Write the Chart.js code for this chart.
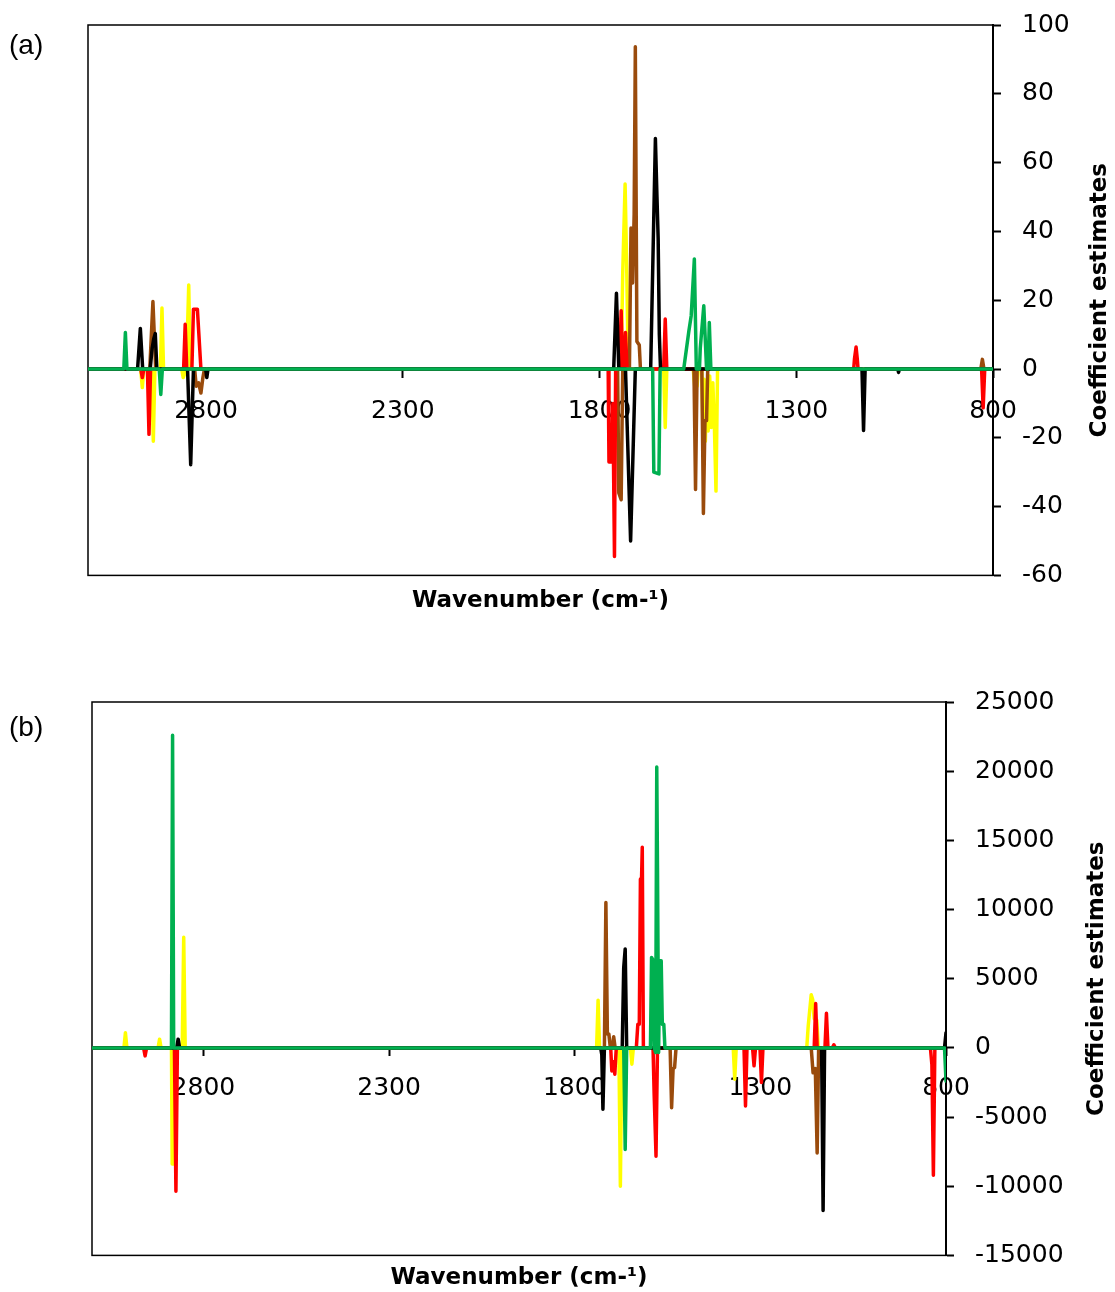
<!DOCTYPE html>
<html>
<head>
<meta charset="utf-8">
<script src="https://cdn.jsdelivr.net/npm/chart.js@4.4.1/dist/chart.umd.min.js"></script>
<style>
  html,body{margin:0;padding:0;background:#fff;}
  #wrap{position:relative;width:1115px;height:1292px;overflow:hidden;}
  canvas{position:absolute;left:0;}
  .plab{position:absolute;left:9px;font-family:"Liberation Sans",Arial,sans-serif;font-size:28px;line-height:28px;color:#000;}
</style>
</head>
<body>
<div id="wrap">
  <canvas id="ca" width="1115" height="640" style="top:0px"></canvas>
  <canvas id="cb" width="1115" height="652" style="top:640px"></canvas>
  <div class="plab" style="top:31px">(a)</div>
  <div class="plab" style="top:713px">(b)</div>
</div>
<script>
// ---------- data (wavenumber, coefficient) ----------
const X_TICKS = [2800, 2300, 1800, 1300, 800];
const X_MIN = 800, X_MAX = 3100;
const A_Y_TICKS = [-60, -40, -20, 0, 20, 40, 60, 80, 100];
const B_Y_TICKS = [-15000, -10000, -5000, 0, 5000, 10000, 15000, 20000, 25000];
const X_TITLE = 'Wavenumber (cm-\u00B9)';
const Y_TITLE = 'Coefficient estimates';

const A_RED = [[3100,0],[2966,0],[2962,-2.5],[2958,0],[2949,0],[2945,-19],[2941,0],
  [2857,0],[2853,13],[2849,0],[2836,0],[2832,17.4],[2822,17.4],[2813,0],
  [1778,0],[1776,-27],[1769,-27],[1766,-10],[1762,-54.5],[1759,0],[1749,0],[1745,16.9],[1741,0],[1738,0],[1734,10.6],[1730,0],
  [1637,0],[1633,14.5],[1629,0],
  [1154,0],[1152,3],[1148,6.4],[1145,3],[1143,0],
  [829,0],[825,-11.3],[821,0],[800,0]];
const A_BROWN = [[3100,0],[2943,0],[2935,19.6],[2928,0],
  [2829,0],[2825,-5],[2819,-4],[2813,-7],[2808,-2.5],[2804,0],
  [1754,0],[1751,-36],[1745,-38],[1741,0],
  [1724,0],[1720,41],[1716,25],[1712,45],[1709,93.7],[1705,8],[1699,7],[1696,0],
  [1560,0],[1556,-35],[1552,0],[1540,0],[1536,-42],[1532,-15],[1528,-15],[1525,0],
  [831,0],[827,2.8],[823,0],[800,0]];
const A_YELLOW = [[3100,0],[2966,0],[2962,-5.4],[2958,0],[2938,0],[2934,-21],[2930,0],[2916,0],[2912,17.7],[2908,0],
  [2862,0],[2858,-2.5],[2850,0],[2844,24.4],[2840,0],
  [1745,0],[1741,28],[1735,53.8],[1731,30],[1727,0],
  [1637,0],[1633,-17],[1629,0],
  [1562,0],[1558,-5],[1552,-5],[1549,0],[1540,0],[1537,-19.5],[1534,-3],[1531,-21],[1528,-5],[1524,-18],[1520,-2],[1516,-17],[1512,-4],[1508,-17],[1504,-35.5],[1500,0],
  [800,0]];
const A_BLACK = [[3100,0],[2974,0],[2967,11.8],[2961,0],[2942,0],[2937,6],[2933,8.7],[2929,10.3],[2925,0],
  [2847,0],[2839,-27.8],[2832,0],[2801,0],[2798,-2.5],[2795,0],
  [1764,0],[1757,22],[1751,0],
  [1734,0],[1721,-50],[1709,0],
  [1670,0],[1658,67],[1654,50],[1651,38],[1648,10],[1645,0],
  [1133,0],[1129,-17.9],[1125,0],[1042,0],[1040,-1],[1038,0],[800,0]];
const A_GREEN = [[3100,0],[3009,0],[3005,10.6],[3001,0],[2919,0],[2915,-7.4],[2911,0],
  [1665,0],[1662,-30],[1649,-30.5],[1646,0],
  [1586,0],[1573,11],[1567,15.5],[1559,32],[1554,0],[1546,0],[1544,6],[1535,18.4],[1528,0],[1524,0],[1521,13.5],[1517,0],
  [800,0]];

const B_RED = [[3100,0],[2961,0],[2957,-580],[2953,0],[2878,0],[2874,-10360],[2870,0],
  [1703,0],[1700,-1670],[1696,-1000],[1692,-1900],[1688,0],
  [1634,0],[1630,1700],[1626,1700],[1623,12200],[1620,12200],[1618,14500],[1615,0],
  [1589,0],[1586,-3350],[1581,-7830],[1577,0],
  [1344,0],[1340,-4200],[1336,0],[1321,0],[1317,-1300],[1313,0],[1301,0],[1297,-2500],[1293,0],
  [1155,0],[1151,3200],[1147,0],[1126,0],[1122,2500],[1118,0],[1106,0],[1102,220],[1098,0],
  [842,0],[838,-1200],[834,-9200],[830,0],[800,0]];
const B_BROWN = [[3100,0],[1720,0],[1716,10500],[1712,1000],[1708,1000],[1704,0],[1699,0],[1695,800],[1691,0],
  [1543,0],[1539,-4330],[1535,-1500],[1531,-1430],[1527,0],
  [1163,0],[1158,-1800],[1152,-1500],[1147,-7590],[1143,0],[800,0]];
const B_YELLOW = [[3100,0],[3014,0],[3010,1100],[3006,0],[2922,0],[2918,630],[2914,0],
  [2886,0],[2884,-8400],[2879,-8400],[2877,0],[2857,0],[2853,8000],[2849,0],
  [1741,0],[1737,3450],[1733,0],[1681,0],[1677,-10000],[1673,0],[1650,0],[1646,-1180],[1642,0],
  [1373,0],[1369,-2270],[1365,0],
  [1175,0],[1171,1600],[1163,3840],[1159,3500],[1155,2100],[1148,2000],[1144,0],
  [800,0]];
const B_BLACK = [[3100,0],[2872,0],[2868,630],[2864,0],
  [1730,0],[1727,-500],[1724,-4440],[1720,0],
  [1672,0],[1668,5800],[1664,7150],[1660,0],
  [1135,0],[1131,-11760],[1127,0],
  [804,0],[800,1100]];
const B_GREEN = [[3100,0],[2886,0],[2883,22600],[2880,0],
  [1668,0],[1664,-7340],[1660,0],
  [1596,0],[1593,6540],[1590,6400],[1586,0],[1582,-340],[1579,20300],[1577,13000],[1574,-340],[1571,6300],[1567,6300],[1564,1700],[1560,1700],[1557,0],
  [804,0],[800,-2400]];

const COLORS = {red:'#FF0000', brown:'#9A4B0C', yellow:'#FFFF00', black:'#000000', green:'#00B050'};

// ---------- drawing ----------
const framePlugin = {
  id: 'frame',
  beforeDatasetsDraw(chart, args, opts) {
    const {ctx, chartArea: a} = chart;
    ctx.save();
    ctx.strokeStyle = '#000';
    ctx.lineWidth = 1.5;
    ctx.strokeRect(a.left, a.top, a.right - a.left, a.bottom - a.top);
    ctx.restore();
  },
  afterDraw(chart, args, opts) {
    const {ctx, chartArea: a} = chart;
    ctx.save();
    ctx.translate(opts.titleX, (a.top + a.bottom) / 2);
    ctx.rotate(-Math.PI / 2);
    ctx.font = 'bold 23px "DejaVu Sans"';
    ctx.fillStyle = '#000';
    ctx.textAlign = 'center';
    ctx.textBaseline = 'middle';
    ctx.fillText(opts.text, 0, 0);
    ctx.restore();
  }
};

const TICK_FONT = {family: 'DejaVu Sans', size: 25};
const TITLE_FONT = {family: 'DejaVu Sans', size: 23, weight: 'bold'};

function makeChart(id, series, yTicks, cfg) {
  const datasets = series.map(s => ({
    data: s.pts.map(p => ({x: p[0], y: p[1]})),
    borderColor: s.color,
    borderWidth: 3.5,
    pointRadius: 0,
    tension: 0,
    fill: false,
    borderJoinStyle: 'round',
    borderCapStyle: 'round',
    xAxisID: 'x',
    yAxisID: 'y',
    order: s.order
  }));
  return new Chart(document.getElementById(id), {
    type: 'line',
    data: {datasets},
    plugins: [framePlugin],
    options: {
      responsive: false,
      animation: false,
      events: [],
      parsing: false,
      layout: {padding: {left: cfg.left, top: cfg.top, right: 0, bottom: 0}},
      plugins: {
        legend: {display: false},
        tooltip: {enabled: false},
        frame: {titleX: cfg.yTitleX, text: Y_TITLE}
      },
      scales: {
        x: {
          type: 'linear', min: X_MIN, max: X_MAX, reverse: true,
          position: {y: 0},
          afterBuildTicks: s => { s.ticks = X_TICKS.map(v => ({value: v})); },
          afterFit: s => { s.paddingLeft = 0; s.paddingRight = 0; },
          ticks: {font: TICK_FONT, color: '#000', padding: cfg.xPad, maxRotation: 0, autoSkip: false,
                  callback: v => String(v)},
          grid: {display: true, drawOnChartArea: false, drawTicks: true, tickLength: 8, tickColor: '#000', tickWidth: 2},
          border: {display: true, color: '#000', width: 1}
        },
        xt: {
          type: 'linear', axis: 'x', position: 'bottom', min: X_MIN, max: X_MAX, reverse: true,
          ticks: {display: false},
          grid: {display: false, drawTicks: false},
          border: {display: false},
          title: {display: true, text: X_TITLE, font: TITLE_FONT, color: '#000', padding: cfg.titlePad}
        },
        y: {
          type: 'linear', position: 'right', min: yTicks[0], max: yTicks[yTicks.length - 1],
          afterBuildTicks: s => { s.ticks = yTicks.map(v => ({value: v})); },
          afterFit: s => { s.width = cfg.yWidth; s.paddingTop = 0; s.paddingBottom = 0; },
          ticks: {font: TICK_FONT, color: '#000', padding: 21, callback: v => String(v)},
          grid: {display: true, drawOnChartArea: false, drawTicks: true, tickLength: 8, tickColor: '#000', tickWidth: 2},
          border: {display: true, color: '#000', width: 2}
        }
      }
    }
  });
}

makeChart('ca', [
  {pts: A_GREEN, color: COLORS.green, order: 0},
  {pts: A_BLACK, color: COLORS.black, order: 1},
  {pts: A_RED, color: COLORS.red, order: 2},
  {pts: A_BROWN, color: COLORS.brown, order: 3},
  {pts: A_YELLOW, color: COLORS.yellow, order: 4}
], A_Y_TICKS, {left: 88, top: 25, yWidth: 122, xPad: 19, titlePad: {top: 12, bottom: 25}, yTitleX: 1100});

makeChart('cb', [
  {pts: B_GREEN, color: COLORS.green, order: 0},
  {pts: B_BLACK, color: COLORS.black, order: 1},
  {pts: B_RED, color: COLORS.red, order: 2},
  {pts: B_BROWN, color: COLORS.brown, order: 3},
  {pts: B_YELLOW, color: COLORS.yellow, order: 4}
], B_Y_TICKS, {left: 92, top: 62, yWidth: 169, xPad: 18, titlePad: {top: 9, bottom: 0}, yTitleX: 1097});
</script>
</body>
</html>
